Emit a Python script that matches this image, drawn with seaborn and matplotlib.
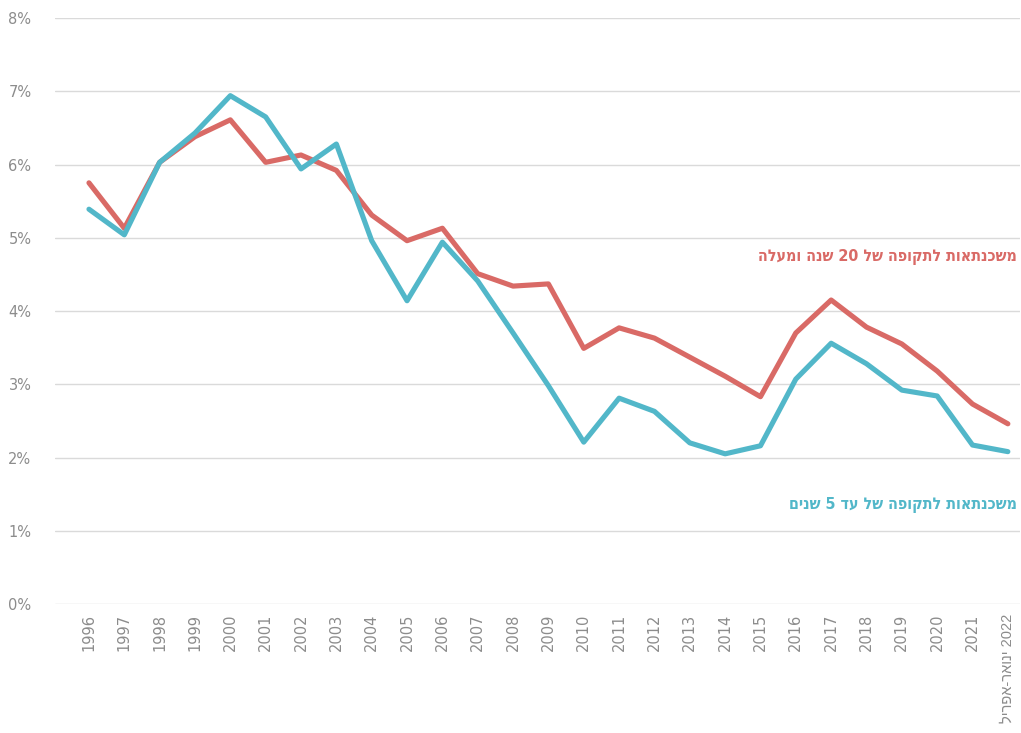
import re
import matplotlib
matplotlib.use("Agg")
import matplotlib.pyplot as plt
import matplotlib.transforms as mtransforms
import pandas as pd
import seaborn as sns

years = ["1996", "1997", "1998", "1999", "2000", "2001", "2002", "2003", "2004",
         "2005", "2006", "2007", "2008", "2009", "2010", "2011", "2012", "2013",
         "2014", "2015", "2016", "2017", "2018", "2019", "2020", "2021", "2022"]

# mortgage rates, %
long_term = [5.75, 5.13, 6.03, 6.38, 6.61, 6.03, 6.13, 5.92, 5.31, 4.96, 5.13,
             4.51, 4.34, 4.37, 3.49, 3.77, 3.63, 3.37, 3.11, 2.83, 3.70, 4.15,
             3.78, 3.55, 3.18, 2.73, 2.46]
short_term = [5.39, 5.04, 6.03, 6.43, 6.94, 6.65, 5.94, 6.28, 4.96, 4.14, 4.94,
              4.41, 3.70, 2.98, 2.21, 2.81, 2.63, 2.20, 2.05, 2.16, 3.07, 3.56,
              3.28, 2.92, 2.84, 2.17, 2.08]

long_name = "משכנתאות לתקופה של 20 שנה ומעלה"
short_name = "משכנתאות לתקופה של עד 5 שנים"
last_period = "ינואר-אפריל"

RED = "#d96a66"
BLUE = "#52b7c9"
TICK = "#8c8c8c"
NARROW = ["Liberation Sans Narrow", "Liberation Sans", "DejaVu Sans"]


def visual(s):
    """Right-to-left text laid out for a left-to-right renderer."""
    rev = s[::-1]
    return re.sub(r"\d+", lambda m: m.group(0)[::-1], rev)


x_labels = years[:-1] + [f"{visual(last_period)} {years[-1]}"]

df = pd.DataFrame({
    "pos": list(range(len(years))) * 2,
    "rate": long_term + short_term,
    "series": [long_name] * len(years) + [short_name] * len(years),
})

sns.set_theme(style="white")
plt.rcParams["font.family"] = ["DejaVu Sans"]

fig = plt.figure(figsize=(10.21, 7.33), dpi=100)
ax = fig.add_axes([0.0539, 0.176, 0.945, 0.7994])

sns.lineplot(data=df, x="pos", y="rate", hue="series",
             hue_order=[long_name, short_name], palette=[RED, BLUE],
             linewidth=3.7, legend=False, ax=ax, sort=False)
for ln in ax.lines:
    ln.set_solid_joinstyle("round")
    ln.set_solid_capstyle("round")

ax.set_ylim(0, 8)
ax.set_xlim(-0.96, 26.34)
ax.set_yticks(range(0, 9))
ax.set_yticklabels([f"{v}%" for v in range(0, 9)])
ax.set_xticks(range(len(years)))
ax.set_xticklabels(x_labels, rotation=90, va="top", ha="center")
ax.tick_params(axis="y", length=0, pad=17, labelsize=10.5, labelcolor=TICK)
ax.tick_params(axis="x", length=0, pad=7, labelsize=10.5, labelcolor=TICK)
ax.get_xticklabels()[-1].set_family(NARROW)
ax.set_xlabel("")
ax.set_ylabel("")
ax.yaxis.grid(True, color="#dadada", linewidth=1)
ax.xaxis.grid(False)
for sp in ax.spines.values():
    sp.set_visible(False)

trans = mtransforms.blended_transform_factory(ax.transAxes, ax.transData)
label_style = dict(transform=trans, ha="right", va="center", fontsize=11.5,
                   fontweight="bold", family=["DejaVu Sans"],
                   fontstretch="condensed")
ax.text(0.997, 4.74, visual(long_name), color=RED, **label_style)
ax.text(0.997, 1.35, visual(short_name), color=BLUE, **label_style)

fig.savefig("out.png", dpi=100, facecolor="white")
